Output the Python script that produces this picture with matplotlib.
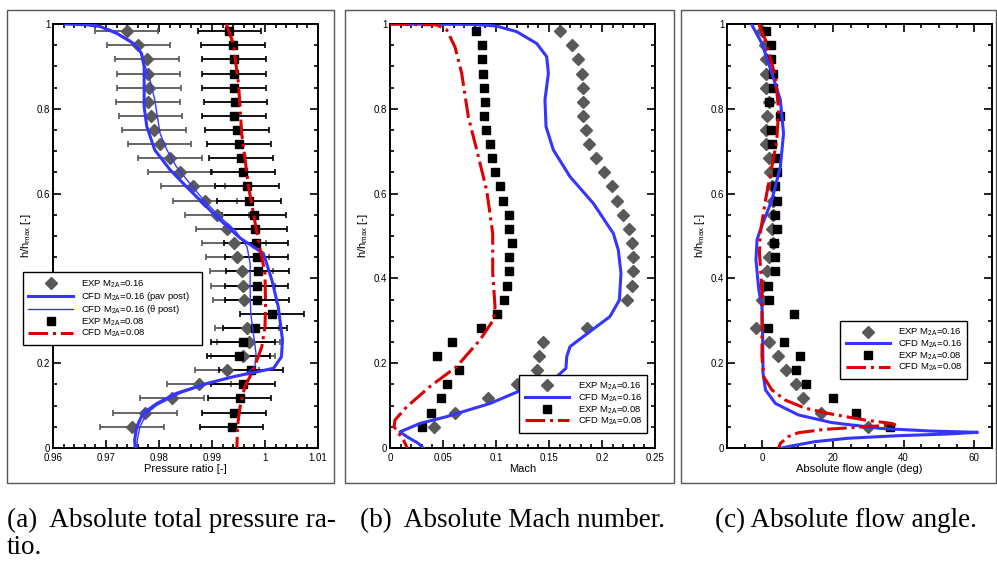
import matplotlib.pyplot as plt
from matplotlib.lines import Line2D
from matplotlib.patches import Rectangle
from matplotlib.ticker import MultipleLocator

plt.rcParams['font.family'] = ['Liberation Sans', 'DejaVu Sans']
plt.rcParams['mathtext.default'] = 'regular'

nan = float('nan')

# -----------------------------
# Data
# -----------------------------

# measurement heights (h/h_max)
h_exp = [0.983, 0.950, 0.917, 0.883, 0.850, 0.817, 0.783, 0.750, 0.717, 0.683,
         0.650, 0.617, 0.583, 0.550, 0.517, 0.483, 0.450, 0.417, 0.383, 0.350,
         0.317, 0.283, 0.250, 0.217, 0.183, 0.150, 0.117, 0.083, 0.050]

# (a) pressure ratio, experiments
pr_exp16 = [0.9739, 0.9761, 0.9777, 0.9780, 0.9781, 0.9779, 0.9784, 0.9791, 0.9801, 0.9821,
            0.9840, 0.9864, 0.9887, 0.9909, 0.9929, 0.9942, 0.9948, 0.9956, 0.9958, 0.9961,
            nan, 0.9966, 0.9969, 0.9959, 0.9928, 0.9876, 0.9824, 0.9774, 0.9749]
pr_exp08 = [0.9933, 0.9940, 0.9942, 0.9942, 0.9942, 0.9944, 0.9942, 0.9947, 0.9951, 0.9955,
            0.9959, 0.9966, 0.9970, 0.9979, 0.9982, 0.9983, 0.9984, 0.9986, 0.9984, 0.9985,
            1.0013, 0.9981, 0.9958, 0.9950, 0.9974, 0.9959, 0.9952, 0.9942, 0.9937]
pr_err = 0.006

# (a) CFD lines
h_pav = [1.000, 0.998, 0.994, 0.978, 0.954, 0.931, 0.899, 0.860, 0.805, 0.758,
         0.703, 0.656, 0.616, 0.585, 0.545, 0.495, 0.459, 0.396, 0.333, 0.255,
         0.215, 0.188, 0.178, 0.168, 0.152, 0.129, 0.105, 0.082, 0.050, 0.019, 0.000]
pr_pav = [0.9623, 0.9665, 0.9689, 0.9720, 0.9752, 0.9767, 0.9772, 0.9772, 0.9772, 0.9777,
          0.9792, 0.9821, 0.9852, 0.9877, 0.9909, 0.9953, 0.9997, 1.0013, 1.0025, 1.0033,
          1.0031, 1.0016, 0.9978, 0.9940, 0.9890, 0.9833, 0.9796, 0.9770, 0.9758, 0.9754, 0.9755]
h_theta = [1.000, 0.998, 0.984, 0.962, 0.935, 0.907, 0.868, 0.821, 0.781, 0.742,
           0.703, 0.663, 0.624, 0.585, 0.545, 0.514, 0.475, 0.435, 0.373, 0.318,
           0.271, 0.223, 0.192, 0.176, 0.156, 0.129, 0.101, 0.082, 0.050, 0.019, 0.000]
pr_theta = [0.9623, 0.9682, 0.9714, 0.9745, 0.9764, 0.9772, 0.9783, 0.9792, 0.9797, 0.9802,
            0.9815, 0.9833, 0.9858, 0.9884, 0.9915, 0.9943, 0.9966, 0.9972, 0.9972, 0.9973,
            0.9978, 0.9983, 0.9981, 0.9965, 0.9903, 0.9840, 0.9796, 0.9777, 0.9764, 0.9759, 0.9758]
h_pr08 = [1.000, 0.954, 0.860, 0.742, 0.616, 0.506, 0.412, 0.333, 0.286, 0.239,
          0.184, 0.145, 0.097, 0.050, 0.000]
pr_cfd08 = [0.9927, 0.9940, 0.9950, 0.9956, 0.9969, 0.9985, 1.0000, 1.0001, 1.0000, 0.9994,
            0.9978, 0.9962, 0.9953, 0.9948, 0.9947]

# (b) Mach number, experiments
ma_exp16 = [0.1604, 0.1714, 0.1777, 0.1808, 0.1818, 0.1818, 0.1824, 0.1846, 0.1877, 0.1943,
            0.2019, 0.2091, 0.2145, 0.2201, 0.2258, 0.2280, 0.2289, 0.2296, 0.2280, 0.2239,
            nan, 0.1855, 0.1447, 0.1409, 0.1384, 0.1195, 0.0928, 0.0613, 0.0418]
ma_exp08 = [0.0811, 0.0865, 0.0871, 0.0881, 0.0890, 0.0899, 0.0884, 0.0909, 0.0947, 0.0965,
            0.0994, 0.1041, 0.1069, 0.1126, 0.1126, 0.1148, 0.1126, 0.1119, 0.1107, 0.1075,
            0.1013, 0.0862, 0.0588, 0.0443, 0.0654, 0.0541, 0.0484, 0.0390, 0.0305]

# (b) CFD lines
h_ma16 = [1.000, 0.999, 0.995, 0.982, 0.954, 0.923, 0.884, 0.821, 0.758, 0.703,
          0.640, 0.577, 0.506, 0.467, 0.412, 0.349, 0.310, 0.263, 0.239, 0.215,
          0.188, 0.168, 0.145, 0.105, 0.074, 0.058, 0.038, 0.027, 0.011, 0.000]
ma_cfd16 = [0.0000, 0.0800, 0.1006, 0.1195, 0.1384, 0.1478, 0.1494, 0.1462, 0.1472, 0.1541,
            0.1698, 0.1918, 0.2107, 0.2154, 0.2179, 0.2164, 0.2075, 0.1824, 0.1698, 0.1667,
            0.1660, 0.1572, 0.1321, 0.0943, 0.0535, 0.0283, 0.0094, 0.0157, 0.0267, 0.0314]
h_ma08 = [1.000, 0.998, 0.986, 0.946, 0.884, 0.781, 0.703, 0.608, 0.506, 0.412,
          0.333, 0.302, 0.255, 0.192, 0.145, 0.097, 0.066, 0.050, 0.036, 0.019, 0.000]
ma_cfd08 = [0.0000, 0.0440, 0.0535, 0.0613, 0.0676, 0.0739, 0.0818, 0.0912, 0.0969, 0.0969,
            0.0991, 0.0975, 0.0849, 0.0629, 0.0377, 0.0157, 0.0047, 0.0038, 0.0079, 0.0126, 0.0164]

# (c) flow angle, experiments
ang_exp16 = [0.0, 0.7, 0.9, 1.0, 1.0, 1.8, 1.4, 1.0, 1.1, 1.8,
             2.3, 2.7, 2.9, 2.9, 2.7, 3.0, 2.0, 1.3, 0.2, -0.1,
             nan, -1.7, 1.8, 4.3, 6.7, 9.5, 11.5, 16.6, 30.0]
ang_exp08 = [1.0, 2.5, 2.5, 3.0, 2.9, 1.8, 4.9, 2.5, 2.7, 3.9,
             4.1, 3.7, 4.1, 3.5, 4.1, 3.2, 3.7, 3.5, 1.5, 1.8,
             9.1, 1.6, 6.0, 10.7, 9.5, 12.3, 19.9, 26.4, 36.1]

# (c) CFD lines
h_ang16 = [1.000, 0.954, 0.884, 0.821, 0.742, 0.663, 0.585, 0.514, 0.491, 0.443,
           0.373, 0.333, 0.255, 0.176, 0.137, 0.105, 0.078, 0.060, 0.046, 0.040,
           0.037, 0.033, 0.029, 0.023, 0.015, 0.005, 0.000]
ang_cfd16 = [-3.1, -0.1, 2.7, 5.1, 6.0, 5.1, 2.7, -0.6, -1.5, -1.8,
             -1.0, -0.1, 0.1, 0.2, 0.9, 3.7, 10.2, 19.6, 33.7, 47.8,
             60.9, 52.5, 38.4, 24.3, 14.9, 8.4, 5.5]
h_ang08 = [1.000, 0.962, 0.876, 0.797, 0.726, 0.663, 0.585, 0.506, 0.459, 0.373,
           0.215, 0.168, 0.137, 0.113, 0.094, 0.080, 0.066, 0.058, 0.055, 0.052,
           0.048, 0.044, 0.036, 0.027, 0.011, 0.000]
ang_cfd08 = [-1.0, 0.9, 3.7, 4.6, 4.1, 2.7, 0.9, -0.6, -0.8, -0.1,
             -0.1, 0.4, 2.7, 6.5, 12.1, 19.6, 29.0, 36.5, 37.5, 32.8,
             25.3, 17.7, 10.2, 7.4, 5.1, 4.6]

# -----------------------------
# Styles
# -----------------------------
BLUE = "#3535ff"
RED = "#dd0000"
GREY = "#595959"
W, H = 997, 561

lab16 = "EXP M$_{2A}$=0.16"
lab08 = "EXP M$_{2A}$=0.08"
cfd16 = "CFD M$_{2A}$=0.16"
cfd08 = "CFD M$_{2A}$=0.08"

fig = plt.figure(figsize=(W / 100, H / 100), dpi=100)


def px_axes(left, top, right, bottom):
    return fig.add_axes([left / W, 1 - bottom / H, (right - left) / W, (bottom - top) / H])


def frame(left, top, right, bottom):
    fig.patches.append(Rectangle((left / W, 1 - bottom / H), (right - left) / W, (bottom - top) / H,
                                 transform=fig.transFigure, fill=False, edgecolor="#555555",
                                 linewidth=1.0))


def style(ax, xlim, xmaj, xmin, xlabel):
    ax.set_xlim(*xlim)
    ax.set_ylim(0, 1)
    ax.xaxis.set_major_locator(MultipleLocator(xmaj))
    ax.xaxis.set_minor_locator(MultipleLocator(xmin))
    ax.yaxis.set_major_locator(MultipleLocator(0.2))
    ax.yaxis.set_minor_locator(MultipleLocator(0.05))
    ax.tick_params(which="both", direction="in", top=True, right=True, labelsize=7,
                   width=1.2, pad=2)
    ax.tick_params(axis="x", pad=3.5)
    ax.tick_params(which="major", length=6)
    ax.tick_params(which="minor", length=3)
    for s in ax.spines.values():
        s.set_linewidth(1.4)
    ax.set_xlabel(xlabel, fontsize=8, labelpad=1)
    ax.set_ylabel("h/h$_{max}$ [-]", fontsize=8, labelpad=3)


def leg(ax, handles, labels, bbox):
    lg = ax.legend(handles, labels, loc="upper left", bbox_to_anchor=bbox, mode="expand",
                   fontsize=6.8, frameon=True, fancybox=False, edgecolor="black",
                   framealpha=1, borderpad=0.6, labelspacing=0.02, handlelength=4.7,
                   handletextpad=0.9, borderaxespad=0)
    lg.get_frame().set_linewidth(1.0)
    lg.set_zorder(10)


h_diam = Line2D([], [], color=GREY, marker="D", ls="none", ms=6)
h_sq = Line2D([], [], color="black", marker="s", ls="none", ms=5.5)
h_blue = Line2D([], [], color=BLUE, lw=2.2)
h_blue_thin = Line2D([], [], color=BLUE, lw=1.0)
h_red = Line2D([], [], color=RED, lw=2.2, ls="-.")

# -----------------------------
# (a) total pressure ratio
# -----------------------------
frame(7, 10, 334, 483)
ax = px_axes(53, 24, 318, 448)
ax.errorbar(pr_exp16, h_exp, xerr=pr_err, fmt="D", color=GREY, ms=6, ecolor=GREY,
            elinewidth=1.3, capsize=2, capthick=1.2, zorder=3)
ax.errorbar(pr_exp08, h_exp, xerr=pr_err, fmt="s", color="black", ms=5.5, ecolor="black",
            elinewidth=1.3, capsize=2, capthick=1.2, zorder=3)
ax.plot(pr_pav, h_pav, color=BLUE, lw=2.2, zorder=4)
ax.plot(pr_theta, h_theta, color=BLUE, lw=1.0, zorder=4)
ax.plot(pr_cfd08, h_pr08, color=RED, lw=2.2, ls="-.", zorder=5)
style(ax, (0.96, 1.01), 0.01, 0.002, "Pressure ratio [-]")
ax.set_xticks([0.96, 0.97, 0.98, 0.99, 1.0, 1.01])
ax.set_xticklabels(["0.96", "0.97", "0.98", "0.99", "1", "1.01"])
ax.set_yticks([0, 0.2, 0.4, 0.6, 0.8, 1.0])
ax.set_yticklabels(["0", "0.2", "0.4", "0.6", "0.8", "1"])
leg(ax, [h_diam, h_blue, h_blue_thin, h_sq, h_red],
    [lab16, cfd16 + " (pav post)", cfd16 + " (\u03b8 post)", lab08, cfd08],
    (-0.114, 0.414, 0.675, 0.0))

# -----------------------------
# (b) Mach number
# -----------------------------
frame(345, 10, 674, 483)
ax = px_axes(390, 24, 655, 448)
ax.plot(ma_exp16, h_exp, "D", color=GREY, ms=6, ls="none", zorder=3)
ax.plot(ma_exp08, h_exp, "s", color="black", ms=5.5, ls="none", zorder=3)
ax.plot(ma_cfd16, h_ma16, color=BLUE, lw=2.2, zorder=4)
ax.plot(ma_cfd08, h_ma08, color=RED, lw=2.2, ls="-.", zorder=5)
style(ax, (0, 0.25), 0.05, 0.01, "Mach")
ax.set_xticks([0, 0.05, 0.1, 0.15, 0.2, 0.25])
ax.set_xticklabels(["0", "0.05", "0.1", "0.15", "0.2", "0.25"])
ax.set_yticks([0, 0.2, 0.4, 0.6, 0.8, 1.0])
ax.set_yticklabels(["0", "0.2", "0.4", "0.6", "0.8", "1"])
leg(ax, [h_diam, h_blue, h_sq, h_red], [lab16, cfd16, lab08, cfd08],
    (0.488, 0.172, 0.48, 0.0))

# -----------------------------
# (c) flow angle
# -----------------------------
frame(681, 10, 996, 483)
ax = px_axes(727, 24, 992, 448)
ax.plot(ang_exp16, h_exp, "D", color=GREY, ms=6, ls="none", zorder=3)
ax.plot(ang_exp08, h_exp, "s", color="black", ms=5.5, ls="none", zorder=3)
ax.plot(ang_cfd16, h_ang16, color=BLUE, lw=2.2, zorder=4)
ax.plot(ang_cfd08, h_ang08, color=RED, lw=2.2, ls="-.", zorder=5)
style(ax, (-10, 65), 20, 5, "Absolute flow angle (deg)")
ax.set_xticks([0, 20, 40, 60])
ax.set_yticks([0, 0.2, 0.4, 0.6, 0.8, 1.0])
ax.set_yticklabels(["0", "0.2", "0.4", "0.6", "0.8", "1"])
leg(ax, [h_diam, h_blue, h_sq, h_red], [lab16, cfd16, lab08, cfd08],
    (0.426, 0.299, 0.478, 0.0))

# -----------------------------
# captions
# -----------------------------
cap = dict(family=["Liberation Serif", "DejaVu Serif"], fontsize=19.5, va="baseline", ha="left")
fig.text(7 / W, 1 - 527 / H, "(a)  Absolute total pressure ra-", **cap)
fig.text(7 / W, 1 - 554 / H, "tio.", **cap)
fig.text(360 / W, 1 - 527 / H, "(b)  Absolute Mach number.", **cap)
fig.text(715 / W, 1 - 527 / H, "(c) Absolute flow angle.", **cap)

fig.savefig("out.png", dpi=100)
